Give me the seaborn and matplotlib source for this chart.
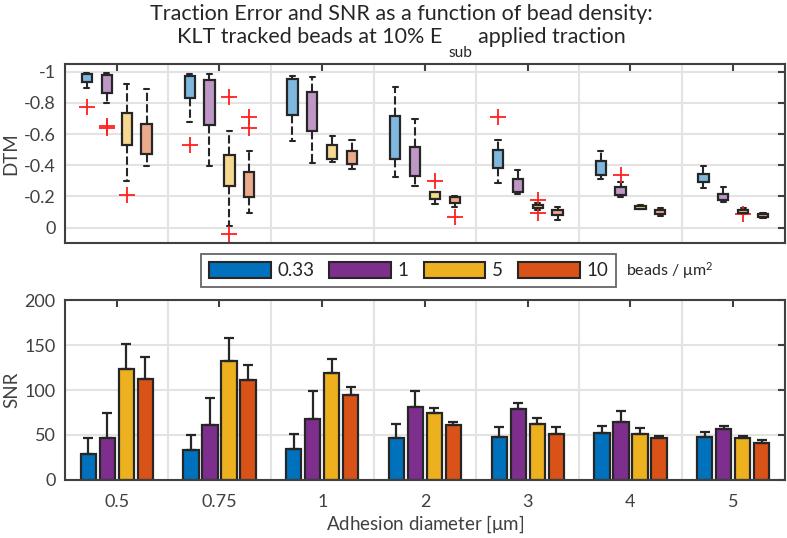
import numpy as np
import pandas as pd
import matplotlib
matplotlib.use("Agg")
import matplotlib.pyplot as plt
from matplotlib.patches import Patch
import seaborn as sns

# adhesion diameters (um) and bead densities (beads / um^2)
diameters = ["0.5", "0.75", "1", "2", "3", "4", "5"]
densities = ["0.33", "1", "5", "10"]
colors = ["#0072BD", "#7E2F8E", "#EDB120", "#D95319"]
light_colors = ["#7fb8de", "#bf97c7", "#f6d890", "#ecaa8c"]

# DTM box statistics, one list per density, one value per diameter
dtm_lo = [
    [-0.893, -0.679, -0.558, -0.327, -0.288, -0.310, -0.256],
    [-0.797, -0.395, -0.412, -0.267, -0.218, -0.194, -0.162],
    [-0.299, -0.011, -0.421, -0.152, -0.115, -0.118, -0.088],
    [-0.397, -0.096, -0.374, -0.135, -0.047, -0.077, -0.060],
]
dtm_q1 = [
    [-0.936, -0.835, -0.722, -0.438, -0.385, -0.335, -0.293],
    [-0.865, -0.658, -0.620, -0.331, -0.231, -0.212, -0.177],
    [-0.528, -0.269, -0.440, -0.186, -0.124, -0.122, -0.094],
    [-0.472, -0.199, -0.408, -0.156, -0.079, -0.088, -0.066],
]
dtm_med = [
    [-0.974, -0.938, -0.893, -0.545, -0.419, -0.374, -0.318],
    [-0.964, -0.917, -0.769, -0.385, -0.267, -0.235, -0.199],
    [-0.588, -0.365, -0.494, -0.209, -0.135, -0.132, -0.103],
    [-0.579, -0.259, -0.470, -0.177, -0.096, -0.100, -0.077],
]
dtm_q3 = [
    [-0.989, -0.974, -0.951, -0.716, -0.498, -0.425, -0.344],
    [-0.979, -0.947, -0.868, -0.519, -0.312, -0.261, -0.216],
    [-0.737, -0.466, -0.530, -0.226, -0.145, -0.141, -0.111],
    [-0.665, -0.359, -0.494, -0.194, -0.113, -0.111, -0.088],
]
dtm_hi = [
    [-0.995, -0.985, -0.974, -0.900, -0.562, -0.494, -0.395],
    [-0.990, -0.983, -0.968, -0.694, -0.370, -0.295, -0.261],
    [-0.921, -0.620, -0.590, -0.230, -0.160, -0.145, -0.124],
    [-0.889, -0.494, -0.562, -0.205, -0.135, -0.126, -0.092],
]
dtm_fliers = [
    [[-0.776], [-0.53], [], [], [-0.707], [], []],
    [[-0.654, -0.641], [], [], [], [], [-0.338], []],
    [[-0.212], [-0.84, 0.04], [], [-0.299], [-0.177, -0.092], [], [-0.085]],
    [[], [-0.712, -0.641], [], [-0.07], [], [], []],
]

# SNR mean and (upper) error, one list per density
snr_mean = [
    [29.3, 33.0, 34.4, 46.7, 48.1, 51.9, 47.8],
    [47.0, 60.7, 67.4, 81.1, 78.5, 64.8, 56.7],
    [123.3, 131.9, 118.5, 74.4, 61.9, 51.5, 47.0],
    [112.2, 111.5, 94.8, 60.7, 51.5, 46.3, 41.5],
]
snr_err = [
    [17.4, 17.0, 17.1, 15.5, 10.4, 7.7, 5.2],
    [27.8, 30.8, 31.9, 18.2, 7.4, 11.5, 3.7],
    [27.4, 25.5, 15.9, 5.2, 6.6, 6.6, 2.3],
    [24.1, 15.9, 8.9, 4.1, 7.4, 2.6, 2.6],
]

sns.set_theme(style="whitegrid", rc={
    "axes.edgecolor": "#404040",
    "axes.linewidth": 1.5,
    "grid.color": "#e3e3e3",
    "grid.linewidth": 1.5,
    "xtick.direction": "in",
    "ytick.direction": "in",
    "xtick.color": "#404040",
    "ytick.color": "#404040",
    "text.color": "#262626",
    "axes.labelcolor": "#404040",
})
plt.rcParams["font.family"] = ["Lato", "DejaVu Sans"]
plt.rcParams["mathtext.fontset"] = "custom"
plt.rcParams["mathtext.rm"] = "Lato"
plt.rcParams["mathtext.it"] = "Lato"

W, H = 787, 538
fig = plt.figure(figsize=(W / 100, H / 100), dpi=100)
ax1 = fig.add_axes([0.083, 0.548, 0.914, 0.333])
ax2 = fig.add_axes([0.083, 0.108, 0.914, 0.334])

edge = "#262626"
offsets = [-0.29, -0.097, 0.097, 0.29]

# top: DTM box plots
for d in range(len(densities)):
    stats = []
    for g in range(len(diameters)):
        stats.append(dict(med=dtm_med[d][g], q1=dtm_q1[d][g], q3=dtm_q3[d][g],
                          whislo=dtm_lo[d][g], whishi=dtm_hi[d][g],
                          fliers=dtm_fliers[d][g]))
    pos = np.arange(len(diameters)) + offsets[d]
    bp = ax1.bxp(stats, positions=pos, widths=0.1, patch_artist=True,
                 manage_ticks=False,
                 boxprops=dict(facecolor=light_colors[d], edgecolor=edge, linewidth=1.6),
                 whiskerprops=dict(color=edge, linewidth=1.5, linestyle=(0, (4, 1.5))),
                 capprops=dict(color=edge, linewidth=1.5),
                 medianprops=dict(color="#ff2020", linewidth=1.5),
                 flierprops=dict(marker="+", markeredgecolor="#ff2020",
                                 markersize=12, markeredgewidth=1.3))
    for b in bp["boxes"]:
        b.set_zorder(3)

ax1.set_xlim(-0.5, 6.5)
ax1.set_ylim(0.1, -1.05)
ax1.set_yticks([-1, -0.8, -0.6, -0.4, -0.2, 0])
ax1.set_yticklabels(["-1", "-0.8", "-0.6", "-0.4", "-0.2", "0"])
ax1.set_xticks(range(len(diameters)))
ax1.set_xticklabels([])
ax1.set_ylabel("DTM", fontsize=13.5, labelpad=3)

# bottom: SNR bars
df = pd.DataFrame({
    "diameter": np.tile(diameters, len(densities)),
    "density": np.repeat(densities, len(diameters)),
    "snr": np.concatenate(snr_mean),
})
sns.barplot(data=df, x="diameter", y="snr", hue="density", hue_order=densities,
            palette=colors, saturation=1, width=0.74, gap=0.2, errorbar=None,
            edgecolor=edge, linewidth=1.6, legend=False, ax=ax2)
bar_groups = list(ax2.containers)
for d, cont in enumerate(bar_groups):
    xs = [b.get_x() + b.get_width() / 2 for b in cont]
    hs = [b.get_height() for b in cont]
    ax2.errorbar(xs, hs, yerr=[np.zeros(len(hs)), snr_err[d]], fmt="none",
                 ecolor=edge, elinewidth=1.6, capsize=3.3, capthick=1.6, zorder=1)

ax2.set_xlim(-0.5, 6.5)
ax2.set_ylim(0, 200)
ax2.set_yticks([0, 50, 100, 150, 200])
ax2.set_ylabel("SNR", fontsize=13.5, labelpad=3)
ax2.set_xlabel("Adhesion diameter [$\\mu$m]", fontsize=13.5, labelpad=3)

for ax in (ax1, ax2):
    ax.set_axisbelow(True)
    ax.grid(False, axis="x", which="major")
    ax.set_xticks(np.arange(-0.5, 7, 1), minor=True)
    ax.grid(True, axis="x", which="minor", color="#e3e3e3", linewidth=1.5)
    ax.tick_params(axis="x", which="minor", length=0)
    ax.tick_params(which="major", top=True, right=True, length=5, width=1.5,
                   labelsize=13)
    ax.tick_params(axis="y", pad=7)
    ax.tick_params(axis="x", pad=10)
    for s in ax.spines.values():
        s.set_visible(True)
        s.set_zorder(5)

handles = [Patch(facecolor=c, edgecolor=edge, linewidth=1.5) for c in colors]
leg = fig.legend(handles, densities, ncol=4, loc="center", bbox_to_anchor=(0.519, 0.497),
                 frameon=True, fancybox=False, edgecolor="#404040", fontsize=13.5,
                 handlelength=3.3, handleheight=0.95, columnspacing=0.8,
                 handletextpad=0.35, borderpad=0.4)
leg.get_frame().set_linewidth(1.3)
fig.text(626 / W, 1 - 271 / H, "beads / $\\mu$m$^2$", fontsize=11.5, va="center",
         color="#262626")

# title, two lines, the second with a dropped "sub"
fs = 15.5
fig.text(0.51, 1 - 20 / H, "Traction Error and SNR as a function of bead density:",
         ha="center", va="baseline", fontsize=fs)
renderer = fig.canvas.get_renderer()
parts = [("KLT tracked beads at 10% E", fs, 0, 6),
         ("sub", fs * 0.72, -14, 6),
         ("applied traction", fs, 0, 0)]
texts = []
for s, size, dy, gap in parts:
    t = fig.text(0, 0, s, fontsize=size, va="baseline")
    texts.append((t, t.get_window_extent(renderer).width, dy, gap))
total = sum(w + g for _, w, _, g in texts)
x = 0.51 * W - total / 2
base = 43
for t, w, dy, g in texts:
    t.set_position((x / W, 1 - (base - dy) / H))
    x += w + g

fig.savefig("out.png", dpi=100)
